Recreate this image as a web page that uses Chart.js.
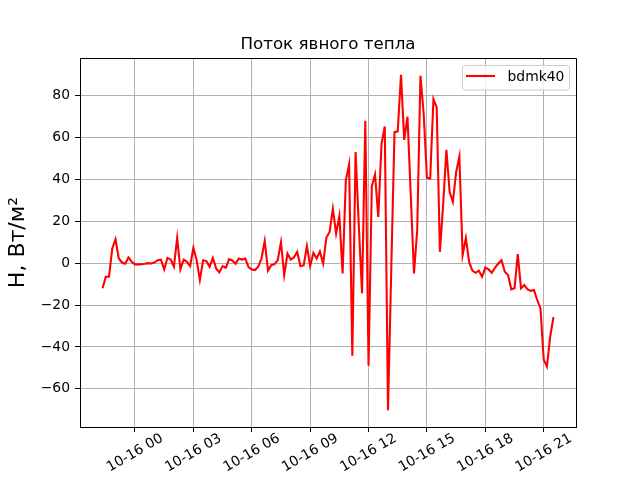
<!DOCTYPE html>
<html><head><meta charset="utf-8">
<script src="https://cdn.jsdelivr.net/npm/chart.js@4.4.1/dist/chart.umd.min.js"></script>
<style>html,body{margin:0;padding:0;background:#fff}#wrap{width:640px;height:480px}</style>
</head><body><div id="wrap"><canvas id="c" width="640" height="480"></canvas></div>
<script>
const seriesName = 'bdmk40';
const chartTitle = 'Поток явного тепла';
const yAxisTitle = 'H, Вт/м²';
// time axis: hours relative to 10-16 00:00, first sample 10-15 22:20, 10-minute sampling
const startHour = -5 / 3;
const stepHours = 1 / 6;
const flux = [
  -12.0, -6.5, -6.5, 7.0, 11.4, 2.2, 0.3, -0.3, 2.7, 0.6,
  -0.6, -0.6, -0.5, -0.3, 0.0, -0.2, 0.3, 1.4, 1.7, -3.0,
  2.5, 1.7, -1.7, 12.0, -3.0, 1.7, 0.6, -1.4, 7.3, 1.5,
  -8.1, 1.4, 1.0, -1.7, 2.5, -2.5, -4.4, -1.4, -2.2, 1.9,
  1.3, -0.3, 2.2, 1.7, 2.2, -1.9, -3.0, -3.3, -1.7, 2.2,
  10.6, -3.6, -1.0, -0.5, 1.4, 10.0, -5.7, 4.6, 1.7, 2.7,
  5.4, -1.4, -1.1, 8.1, -1.4, 4.9, 2.2, 5.5, -0.2, 12.2,
  14.9, 26.0, 14.1, 22.5, -4.9, 39.5, 47.1, -44.2, 53.0, 18.0,
  -14.4, 68.0, -49.0, 36.6, 42.3, 22.0, 56.9, 65.2, -70.2, -3.0,
  62.5, 62.9, 89.9, 58.8, 69.9, 33.0, -4.9, 15.7, 89.4, 71.2,
  40.7, 40.4, 78.3, 74.4, 5.4, 28.0, 54.1, 33.9, 29.2, 43.4,
  50.9, 3.8, 12.0, 0.6, -3.6, -4.6, -3.6, -6.5, -2.1, -3.0,
  -4.6, -2.1, -0.2, 1.4, -4.1, -5.7, -12.5, -12.0, 4.3, -12.0,
  -10.5, -12.5, -13.2, -12.8, -17.6, -21.6, -46.1, -49.3, -35.0, -25.8
];
const xTickHours = [0, 3, 6, 9, 12, 15, 18, 21];
const xTickLabels = ['10-16 00', '10-16 03', '10-16 06', '10-16 09', '10-16 12', '10-16 15', '10-16 18', '10-16 21'];
const yTickValues = [-60, -40, -20, 0, 20, 40, 60, 80];

const FONT = 'DejaVu Sans';
const TICK_PX = 13.9;
Chart.defaults.font.family = FONT;

const pts = flux.map((v, i) => ({ x: startHour + i * stepHours, y: v }));
const xLo = pts[0].x, xHi = pts[pts.length - 1].x;
const yLo = Math.min(...flux), yHi = Math.max(...flux);
const xPad = (xHi - xLo) * 0.05, yPad = (yHi - yLo) * 0.05;

const decor = {
  id: 'decor',
  afterDraw(chart) {
    const ctx = chart.ctx, a = chart.chartArea;
    ctx.save();
    // top/right spines
    ctx.strokeStyle = '#000'; ctx.lineWidth = 1;
    ctx.beginPath();
    ctx.moveTo(Math.round(a.left), Math.round(a.top) + 0.5);
    ctx.lineTo(Math.round(a.right) + 0.5, Math.round(a.top) + 0.5);
    ctx.lineTo(Math.round(a.right) + 0.5, Math.round(a.bottom));
    ctx.stroke();
    // title
    ctx.fillStyle = '#000';
    ctx.font = '16.7px "' + FONT + '"';
    ctx.textAlign = 'center'; ctx.textBaseline = 'alphabetic';
    ctx.fillText(chartTitle, (a.left + a.right) / 2, 49);
    // y axis title
    ctx.save();
    ctx.translate(18, (a.top + a.bottom) / 2);
    ctx.rotate(-Math.PI / 2);
    ctx.font = '22px "' + FONT + '"';
    ctx.textAlign = 'center'; ctx.textBaseline = 'middle';
    ctx.fillText(yAxisTitle, 0, 0);
    ctx.restore();
    // x tick labels (rotated 30deg, centered on tick)
    const xs = chart.scales.x;
    ctx.font = TICK_PX + 'px "' + FONT + '"';
    xTickHours.forEach((h, i) => {
      const px = xs.getPixelForValue(h);
      ctx.save();
      ctx.translate(px, 453);
      ctx.rotate(-Math.PI / 6);
      ctx.textAlign = 'center'; ctx.textBaseline = 'middle';
      ctx.fillText(xTickLabels[i], 0, 0);
      ctx.restore();
    });
    // legend
    const lx = 462.5, ly = 65.5, lw = 107, lh = 24.5, r = 3;
    ctx.beginPath();
    ctx.moveTo(lx + r, ly);
    ctx.arcTo(lx + lw, ly, lx + lw, ly + lh, r);
    ctx.arcTo(lx + lw, ly + lh, lx, ly + lh, r);
    ctx.arcTo(lx, ly + lh, lx, ly, r);
    ctx.arcTo(lx, ly, lx + lw, ly, r);
    ctx.closePath();
    ctx.fillStyle = 'rgba(255,255,255,0.8)';
    ctx.fill();
    ctx.strokeStyle = '#cccccc'; ctx.lineWidth = 1;
    ctx.stroke();
    const ds = chart.data.datasets[0];
    ctx.strokeStyle = ds.borderColor; ctx.lineWidth = 2.08;
    ctx.beginPath(); ctx.moveTo(466, 76); ctx.lineTo(495, 76); ctx.stroke();
    ctx.fillStyle = '#000';
    ctx.font = TICK_PX + 'px "' + FONT + '"';
    ctx.textAlign = 'left'; ctx.textBaseline = 'middle';
    ctx.fillText(ds.label, 507.5, 77);
    ctx.restore();
  }
};

new Chart(document.getElementById('c'), {
  type: 'line',
  data: { datasets: [{ label: seriesName, data: pts, borderColor: '#ff0000', borderWidth: 2.08, pointRadius: 0, tension: 0, fill: false }] },
  options: {
    responsive: false, animation: false,
    layout: { padding: { top: 58, right: 64, left: 0, bottom: 0 } },
    plugins: { legend: { display: false }, title: { display: false }, tooltip: { enabled: false } },
    scales: {
      x: {
        type: 'linear', min: xLo - xPad, max: xHi + xPad,
        afterFit(s) { s.height = 53; },
        afterBuildTicks(s) { s.ticks = xTickHours.map(v => ({ value: v })); },
        ticks: { display: false },
        grid: { color: '#b0b0b0', lineWidth: 1, tickLength: 5, tickColor: '#000', drawTicks: true },
        border: { color: '#000', width: 1 }
      },
      y: {
        type: 'linear', min: yLo - yPad, max: yHi + yPad,
        afterFit(s) { s.width = 80; },
        afterBuildTicks(s) { s.ticks = yTickValues.map(v => ({ value: v })); },
        ticks: { color: '#000', padding: 5, font: { size: TICK_PX }, callback: v => v < 0 ? '\u2212' + Math.abs(v) : String(v) },
        grid: { color: '#b0b0b0', lineWidth: 1, tickLength: 5, tickColor: '#000', drawTicks: true },
        border: { color: '#000', width: 1 }
      }
    }
  },
  plugins: [decor]
});
</script>
</body></html>
